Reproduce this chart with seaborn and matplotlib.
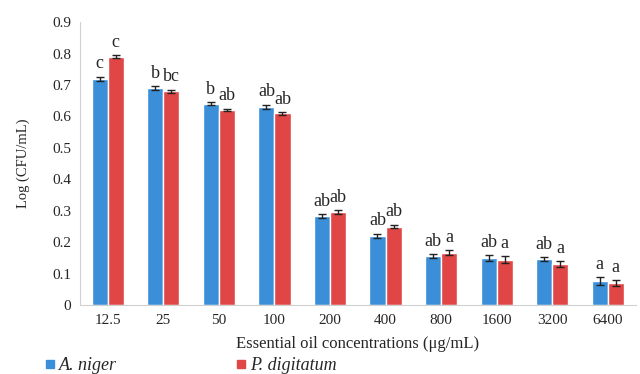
import numpy as np
import pandas as pd
import matplotlib
matplotlib.use('Agg')
import matplotlib.pyplot as plt
import seaborn as sns

# data
concentrations = ['12.5', '25', '50', '100', '200', '400', '800', '1600', '3200', '6400']
niger_vals = [0.72, 0.69, 0.64, 0.63, 0.283, 0.22, 0.156, 0.15, 0.146, 0.077]
digit_vals = [0.79, 0.68, 0.62, 0.61, 0.296, 0.25, 0.166, 0.145, 0.13, 0.07]
niger_err = [0.006, 0.006, 0.005, 0.007, 0.007, 0.007, 0.007, 0.008, 0.007, 0.012]
digit_err = [0.005, 0.005, 0.004, 0.004, 0.006, 0.006, 0.008, 0.010, 0.010, 0.010]
niger_letters = ['c', 'b', 'b', 'ab', 'ab', 'ab', 'ab', 'ab', 'ab', 'a']
digit_letters = ['c', 'bc', 'ab', 'ab', 'ab', 'ab', 'a', 'a', 'a', 'a']
series = ['A. niger', 'P. digitatum']

df = pd.DataFrame({
    'conc': concentrations * 2,
    'val': niger_vals + digit_vals,
    'species': [series[0]] * len(concentrations) + [series[1]] * len(concentrations),
})

sns.set_style('white')
plt.rcParams['font.family'] = ['Liberation Serif', 'DejaVu Serif']

fig = plt.figure(figsize=(6.4, 3.74), dpi=100)
ax = fig.add_axes([0.125, 0.184, 0.868, 0.757])

colors = ['#3a8fd8', '#e04646']
sns.barplot(data=df, x='conc', y='val', hue='species', palette=colors,
            width=0.58, saturation=1, ax=ax, legend=False)

for cont, errs, letters in zip(ax.containers, [niger_err, digit_err], [niger_letters, digit_letters]):
    xs = [p.get_x() + p.get_width() / 2 for p in cont]
    hs = [p.get_height() for p in cont]
    ax.errorbar(xs, hs, yerr=errs, fmt='none', ecolor='#222222', elinewidth=1, capsize=3, capthick=1)
    for x, h, e, lab in zip(xs, hs, errs, letters):
        ax.text(x, h + e + 0.014, lab, ha='center', va='bottom', fontsize=13)

ax.set_ylim(0, 0.9)
ax.set_xlim(-0.5, 9.5)
ax.set_yticks(np.arange(0, 0.91, 0.1))
ax.set_yticklabels(['0'] + [f'{v:.1f}' for v in np.arange(0.1, 0.91, 0.1)])
ax.tick_params(axis='both', labelsize=11, length=3, color='#cccccc')
ax.set_xlabel('Essential oil concentrations (μg/mL)', fontsize=12, labelpad=6)
ax.set_ylabel('Log (CFU/mL)', fontsize=10.5, labelpad=16)
for s in ['top', 'right']:
    ax.spines[s].set_visible(False)
for s in ['left', 'bottom']:
    ax.spines[s].set_color('#d0d0d0')

handles = [plt.Line2D([], [], marker='s', linestyle='none', markersize=6, color=c) for c in colors]
fig.legend(handles, series, loc='lower left', bbox_to_anchor=(0.058, -0.02), ncol=2,
           frameon=False, prop={'style': 'italic', 'size': 13}, handlelength=0.6,
           handletextpad=0.2, columnspacing=6.6, borderaxespad=0)

fig.savefig('out.png', dpi=100)
